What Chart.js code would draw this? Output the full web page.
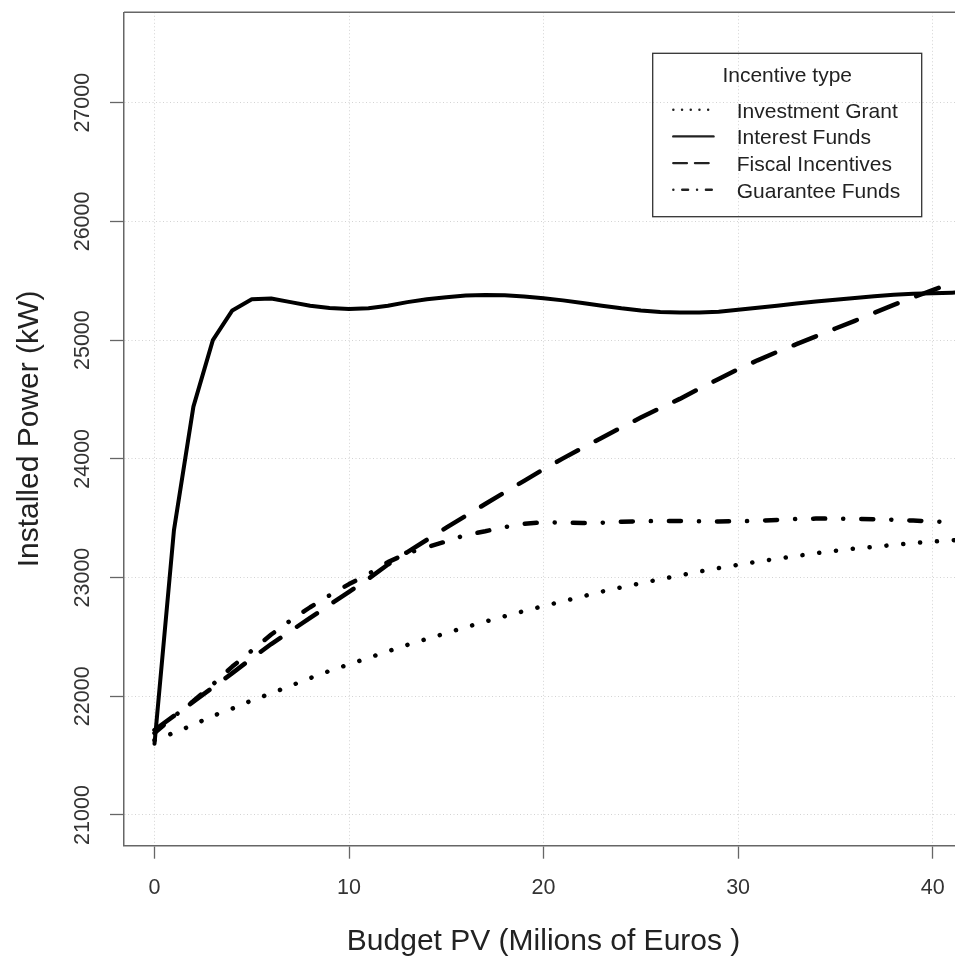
<!DOCTYPE html>
<html>
<head>
<meta charset="utf-8">
<script src="https://cdn.jsdelivr.net/npm/chart.js@4.4.1/dist/chart.umd.min.js"></script>
<style>
  html, body { margin: 0; padding: 0; background: #fff; }
  canvas { display: block; }
</style>
</head>
<body>
<canvas id="chart" width="955" height="961"></canvas>
<script>
// Budget PV (millions of euros)
const budget = [0, 1, 2, 3, 4, 5, 6, 7, 8, 9, 10, 11, 12, 13, 14, 15, 16, 17, 18, 19, 20,
    21, 22, 23, 24, 25, 26, 27, 28, 29, 30, 31, 32, 33, 34, 35, 36, 37, 38, 39, 40, 41, 42];

// Installed power (kW) per incentive type
const investmentGrant = [21630, 21692, 21760, 21835, 21896, 21965, 22025, 22089, 22153, 22214, 22269,
    22324, 22379, 22433, 22483, 22532, 22582, 22629, 22674, 22718, 22760,
    22800, 22841, 22882, 22918, 22952, 22986, 23019, 23050, 23080, 23108,
    23134, 23159, 23182, 23205, 23226, 23244, 23259, 23275, 23291, 23303, 23314, 23324];
const interestFunds = [21600, 23400, 24440, 25000, 25250, 25345, 25350, 25320, 25290, 25270, 25262,
    25268, 25290, 25320, 25345, 25362, 25375, 25381, 25378, 25368, 25353,
    25335, 25312, 25290, 25268, 25250, 25238, 25232, 25232, 25240, 25255,
    25272, 25290, 25308, 25325, 25340, 25355, 25370, 25382, 25390, 25395, 25400, 25403];
const fiscalIncentives = [21716, 21835, 21955, 22075, 22195, 22320, 22440, 22550, 22660, 22770, 22880,
    22990, 23110, 23215, 23318, 23420, 23520, 23620, 23718, 23815, 23912,
    24004, 24092, 24178, 24265, 24348, 24428, 24505, 24590, 24673, 24755,
    24830, 24900, 24966, 25032, 25098, 25163, 25230, 25297, 25360, 25422, 25480, 25538];
const guaranteeFunds = [21690, 21830, 21960, 22100, 22250, 22385, 22520, 22640, 22750, 22850, 22945,
    23030, 23130, 23205, 23255, 23305, 23359, 23390, 23425, 23452, 23467,
    23462, 23460, 23462, 23470, 23475, 23476, 23476, 23475, 23473, 23474,
    23478, 23485, 23493, 23497, 23496, 23494, 23492, 23487, 23480, 23473, 23465, 23458];

const xTicks = [0, 10, 20, 30, 40];
const yTicks = [21000, 22000, 23000, 24000, 25000, 26000, 27000];

const FONT = '"Liberation Sans", Arial, Helvetica, sans-serif';
const axisGray = '#666';

const toPoints = ys => budget.map((b, i) => ({ x: b, y: ys[i] }));

// line style per series: plot dash and legend sample dash
const styles = [
    { label: 'Investment Grant', data: investmentGrant, dash: [0.1, 16.8], legendDash: [0.1, 8.6] },
    { label: 'Interest Funds', data: interestFunds, dash: [], legendDash: [] },
    { label: 'Fiscal Incentives', data: fiscalIncentives, dash: [24, 20], legendDash: [13.6, 8.1] },
    { label: 'Guarantee Funds', data: guaranteeFunds, dash: [12, 18, 0.1, 18], legendDash: [0.1, 8.8, 5.9, 8.9] }
];

const rPlot = {
    id: 'rPlot',
    afterDraw(chart) {
        const { ctx, chartArea, scales: { x, y } } = chart;
        ctx.save();

        // top edge of the box
        ctx.strokeStyle = axisGray;
        ctx.lineWidth = 1.5;
        ctx.beginPath();
        ctx.moveTo(chartArea.left, chartArea.top);
        ctx.lineTo(chartArea.right, chartArea.top);
        ctx.stroke();

        // tick labels
        ctx.fillStyle = '#333';
        ctx.font = '21.5px ' + FONT;
        ctx.textAlign = 'center';
        ctx.textBaseline = 'middle';
        xTicks.forEach(v => ctx.fillText(String(v), x.getPixelForValue(v), 888));
        yTicks.forEach(v => {
            ctx.save();
            ctx.translate(83, y.getPixelForValue(v));
            ctx.rotate(-Math.PI / 2);
            ctx.fillText(String(v), 0, 0);
            ctx.restore();
        });

        // axis titles
        ctx.fillStyle = '#222';
        ctx.font = '30px ' + FONT;
        ctx.textBaseline = 'alphabetic';
        ctx.fillText('Budget PV (Milions of Euros )', x.getPixelForValue(20), 950);
        ctx.save();
        ctx.translate(38, (chartArea.top + chartArea.bottom) / 2);
        ctx.rotate(-Math.PI / 2);
        ctx.fillText('Installed Power (kW)', 0, 0);
        ctx.restore();

        // legend
        ctx.strokeStyle = '#333';
        ctx.lineWidth = 1.3;
        ctx.strokeRect(652.7, 53.3, 269, 163.4);
        ctx.fillStyle = '#222';
        ctx.font = '21px ' + FONT;
        ctx.textAlign = 'center';
        ctx.fillText('Incentive type', 787.2, 81.5);
        ctx.textAlign = 'left';
        styles.forEach((s, i) => {
            const base = 117.7 + i * 26.7;
            ctx.fillText(s.label, 736.7, base);
            ctx.save();
            ctx.strokeStyle = '#222';
            ctx.lineWidth = 2.4;
            ctx.lineCap = 'round';
            ctx.setLineDash(s.legendDash);
            ctx.beginPath();
            ctx.moveTo(673.3, base - 8);
            ctx.lineTo(713.5, base - 8);
            ctx.stroke();
            ctx.restore();
        });

        ctx.restore();
    }
};

new Chart(document.getElementById('chart'), {
    type: 'line',
    data: {
        datasets: styles.map(s => ({
            label: s.label,
            data: toPoints(s.data),
            borderColor: '#000',
            borderWidth: s.dash.length ? 4.5 : 4,
            borderDash: s.dash,
            borderCapStyle: 'round',
            borderJoinStyle: 'round',
            pointRadius: 0,
            tension: 0,
            fill: false
        }))
    },
    options: {
        responsive: false,
        animation: false,
        devicePixelRatio: 1,
        layout: { padding: { top: 12.3, left: 0, right: 0, bottom: 0 } },
        plugins: { legend: { display: false }, tooltip: { enabled: false } },
        scales: {
            x: {
                type: 'linear',
                min: -1.568,
                max: 41.15,
                afterBuildTicks: axis => { axis.ticks = xTicks.map(v => ({ value: v })); },
                afterFit: axis => { axis.height = 961 - 845.7; },
                ticks: { display: false },
                grid: { color: '#d3d3d3', lineWidth: 1, tickLength: 13, tickColor: axisGray, tickWidth: 1.3 },
                border: { display: true, color: axisGray, width: 1.5, dash: [1, 2.5] }
            },
            y: {
                type: 'linear',
                min: 20741.4,
                max: 27761.5,
                afterBuildTicks: axis => { axis.ticks = yTicks.map(v => ({ value: v })); },
                afterFit: axis => { axis.width = 124; },
                ticks: { display: false },
                grid: { color: '#d3d3d3', lineWidth: 1, tickLength: 14, tickColor: axisGray, tickWidth: 1.3 },
                border: { display: true, color: axisGray, width: 1.5, dash: [1, 2.5] }
            }
        }
    },
    plugins: [rPlot]
});
</script>
</body>
</html>
